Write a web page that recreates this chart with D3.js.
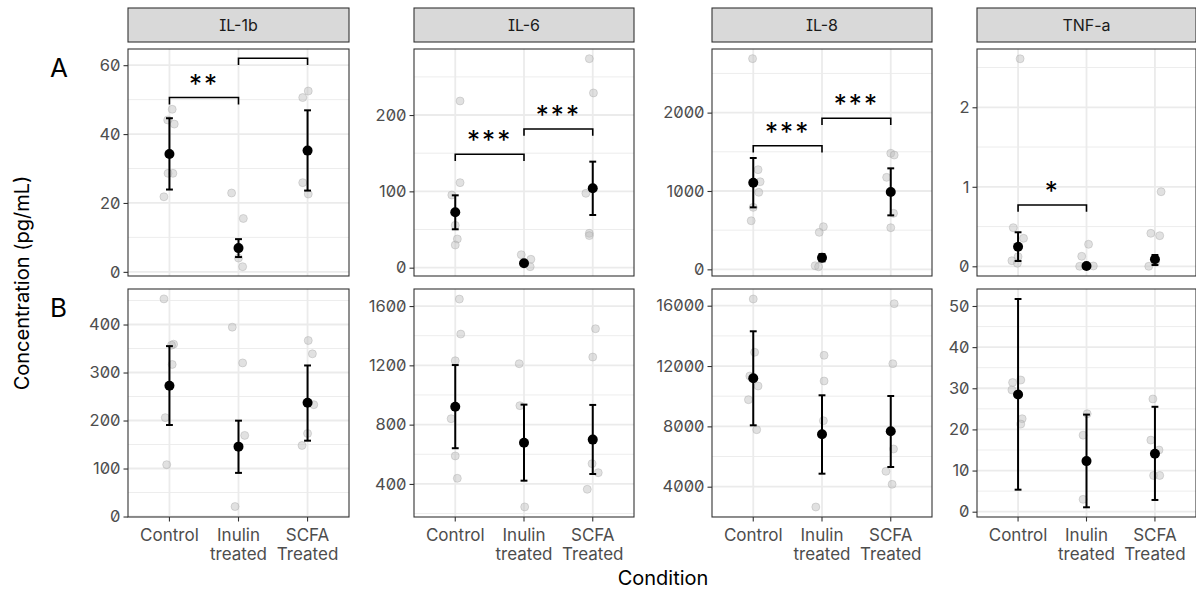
<!DOCTYPE html>
<html>
<head>
<meta charset="utf-8">
<script src="https://cdn.jsdelivr.net/npm/d3@7"></script>
<style>
body { margin: 0; background: #fff; }
text { font-family: Inter, "Noto Sans", sans-serif; }
.ytick text { font-feature-settings: "zero" 1; }
.strip text { font-feature-settings: "cv08" 1; }
</style>
</head>
<body>
<div id="chart"></div>
<script>
const conditions = ["Control", "Inulin treated", "SCFA Treated"];
const conditionLines = [["Control"], ["Inulin", "treated"], ["SCFA", "Treated"]];
const cytokines = ["IL-1b", "IL-6", "IL-8", "TNF-a"];
const rowLabels = ["A", "B"];

// individual points: [condition index, jitter (in category steps), value]
const ptsA_IL1b = [[0,0.04,47.2],[0,-0.025,44.1],[0,0.07,42.9],[0,-0.02,28.6],[0,0.05,28.6],[0,-0.08,21.8],
  [1,-0.1,22.9],[1,0.07,15.5],[1,0,4.0],[1,0.06,1.5],
  [2,0.01,52.5],[2,-0.07,50.6],[2,-0.07,25.9],[2,0.01,22.6]];
const ptsA_IL6 = [[0,0.07,218.4],[0,0.07,111.4],[0,-0.05,95.2],[0,0,55.5],[0,0.03,37.6],[0,0,29.7],
  [1,-0.04,17],[1,0.1,11],[1,0.09,1.3],
  [2,-0.05,273.8],[2,0.01,228.9],[2,-0.1,97.4],[2,-0.05,45],[2,-0.05,42]];
const ptsA_IL8 = [[0,-0.01,2689],[0,0.07,1272],[0,0.1,1118],[0,0.08,983],[0,0,791],[0,-0.03,620],
  [1,0.02,544],[1,-0.04,472],[1,-0.1,46],[1,-0.05,33],
  [2,0,1481],[2,0.05,1459],[2,-0.06,1174],[2,0.04,715],[2,0,531]];
const ptsA_TNF = [[0,0.03,2.61],[0,-0.07,0.486],[0,0.08,0.352],[0,0,0.121],[0,-0.09,0.07],[0,-0.01,0.038],
  [1,0.03,0.277],[1,-0.07,0.126],[1,-0.1,0.0],[1,0.1,0.004],
  [2,0.09,0.938],[2,-0.06,0.415],[2,0.07,0.385],[2,-0.09,0.0],[2,0.01,0.05]];
const ptsB_IL1b = [[0,-0.08,453.4],[0,0.06,359],[0,0.03,357],[0,0.04,316.8],[0,-0.06,206],[0,-0.04,108],
  [1,-0.09,394.5],[1,0.06,320],[1,0.09,169],[1,-0.05,20.8],
  [2,0.01,366.7],[2,0.07,339],[2,0.09,233],[2,0,173],[2,-0.08,148]];
const ptsB_IL6 = [[0,0.06,1647],[0,0.08,1411],[0,0,1231],[0,-0.06,840],[0,0,589],[0,0.03,438],
  [1,-0.07,1211],[1,-0.06,928],[1,0.01,245],
  [2,0.04,1447],[2,0,1256],[2,-0.01,537],[2,0.08,476],[2,-0.08,364]];
const ptsB_IL8 = [[0,0,16445],[0,0.02,12911],[0,-0.05,11339],[0,0.07,10676],[0,-0.07,9768],[0,0.05,7779],
  [1,0.03,12711],[1,0.03,11008],[1,0.02,8376],[1,-0.09,2654],
  [2,0.05,16133],[2,0.03,12155],[2,0.04,6500],[2,-0.07,5020],[2,0.02,4159]];
const ptsB_TNF = [[0,0.04,32.0],[0,-0.08,31.4],[0,-0.09,29.6],[0,0.06,22.6],[0,0.04,21.3],
  [1,0.01,23.8],[1,-0.05,18.6],[1,-0.05,3.0],
  [2,-0.03,27.4],[2,-0.06,17.4],[2,0.06,15],[2,-0.02,8.8],[2,0.07,8.8]];

// summary: mean and error bar limits per cytokine, per condition
const meanA  = [[34.2, 6.9, 35.2], [72.6, 5.8, 104], [1106, 148, 987], [0.247, 0.004, 0.088]];
const lowA   = [[23.9, 4.3, 23.6], [50.3, 3.8, 69], [791, 102, 689], [0.067, 0.0, 0.016]];
const highA  = [[44.6, 9.5, 46.9], [94.8, 7.8, 138.9], [1421, 195, 1289], [0.428, 0.008, 0.142]];
const meanB  = [[272.5, 145.6, 237], [921, 678, 699], [11187, 7474, 7673], [28.5, 12.3, 14.1]];
const lowB   = [[190.7, 90.9, 158], [641, 422, 467], [8071, 4862, 5306], [5.35, 1.07, 2.85]];
const highB  = [[355, 199.7, 314.7], [1202, 935, 933], [14303, 10060, 10013], [51.7, 23.6, 25.5]];

// significance brackets in row A: [cytokine index, from, to, bar value, label]
const bracketsA = [[0, 0, 1, 50.6, "**"], [0, 1, 2, 62.0, ""],
  [1, 0, 1, 148.6, "***"], [1, 1, 2, 181.7, "***"],
  [2, 0, 1, 1578, "***"], [2, 1, 2, 1928, "***"],
  [3, 0, 1, 0.771, "*"]];

const domainsA = [[-1.2, 64.7], [-10.9, 286.5], [-85, 2812], [-0.122, 2.733]];
const domainsB = [[-1, 474], [177, 1715], [1991, 17107], [-1.29, 54.13]];
const ticksA = [[0, 20, 40, 60], [0, 100, 200], [0, 1000, 2000], [0, 1, 2]];
const ticksB = [[0, 100, 200, 300, 400], [400, 800, 1200, 1600], [4000, 8000, 12000, 16000], [0, 10, 20, 30, 40, 50]];

const rowsData = [
  {pts: [ptsA_IL1b, ptsA_IL6, ptsA_IL8, ptsA_TNF], mean: meanA, low: lowA, high: highA, dom: domainsA, ticks: ticksA},
  {pts: [ptsB_IL1b, ptsB_IL6, ptsB_IL8, ptsB_TNF], mean: meanB, low: lowB, high: highB, dom: domainsB, ticks: ticksB}
];

let width = 1196, height = 589;
const panelX = [[128, 349], [414, 634], [712, 932], [977, 1196]];
const rowY = [[49, 276], [289, 517]];
const stripY = [8, 42];

const svg = d3.select("#chart").append("svg")
  .attr("width", width).attr("height", height);

rowsData.forEach(function(row, r) {
  cytokines.forEach(function(cyt, c) {
    const x = d3.scalePoint().domain(d3.range(3)).range(panelX[c]).padding(0.6);
    const step = x.step();
    const y = d3.scaleLinear().domain(row.dom[c]).range([rowY[r][1], rowY[r][0]]);
    const x0 = panelX[c][0], x1 = panelX[c][1], y0 = rowY[r][0], y1 = rowY[r][1];

    const g = svg.append("g");
    const clipId = "clip-" + r + "-" + c;
    svg.append("clipPath").attr("id", clipId)
      .append("rect").attr("x", x0).attr("y", y0).attr("width", x1 - x0).attr("height", y1 - y0);
    const inner = g.append("g").attr("clip-path", "url(#" + clipId + ")");

    // grid
    const ticks = row.ticks[c];
    const tstep = ticks[1] - ticks[0];
    const dom = row.dom[c];
    let minors = [];
    for (let v = ticks[0] - tstep / 2; v <= dom[1]; v += tstep) {
      if (v >= dom[0]) minors.push(v);
    }
    inner.selectAll(".minor").data(minors).enter().append("line")
      .attr("x1", x0).attr("x2", x1)
      .attr("y1", d => y(d)).attr("y2", d => y(d))
      .attr("stroke", "#ebebeb").attr("stroke-width", 0.9);
    inner.selectAll(".major").data(ticks).enter().append("line")
      .attr("x1", x0).attr("x2", x1)
      .attr("y1", d => y(d)).attr("y2", d => y(d))
      .attr("stroke", "#ebebeb").attr("stroke-width", 1.8);
    inner.selectAll(".vmajor").data(d3.range(3)).enter().append("line")
      .attr("x1", d => x(d)).attr("x2", d => x(d))
      .attr("y1", y0).attr("y2", y1)
      .attr("stroke", "#ebebeb").attr("stroke-width", 1.8);

    // raw points
    inner.selectAll(".pt").data(row.pts[c]).enter().append("circle")
      .attr("cx", d => x(d[0]) + d[1] * step)
      .attr("cy", d => y(d[2]))
      .attr("r", 4)
      .attr("fill", "#bdbdbd").attr("fill-opacity", 0.45)
      .attr("stroke", "#a0a0a0").attr("stroke-opacity", 0.45).attr("stroke-width", 0.8);

    // error bars
    const cap = 0.05 * step;
    const eb = inner.selectAll(".eb").data(d3.range(3)).enter().append("g");
    eb.append("line")
      .attr("x1", d => x(d)).attr("x2", d => x(d))
      .attr("y1", d => y(row.low[c][d])).attr("y2", d => y(row.high[c][d]))
      .attr("stroke", "#000").attr("stroke-width", 2);
    eb.append("line")
      .attr("x1", d => x(d) - cap).attr("x2", d => x(d) + cap)
      .attr("y1", d => y(row.low[c][d])).attr("y2", d => y(row.low[c][d]))
      .attr("stroke", "#000").attr("stroke-width", 2);
    eb.append("line")
      .attr("x1", d => x(d) - cap).attr("x2", d => x(d) + cap)
      .attr("y1", d => y(row.high[c][d])).attr("y2", d => y(row.high[c][d]))
      .attr("stroke", "#000").attr("stroke-width", 2);
    eb.append("circle")
      .attr("cx", d => x(d)).attr("cy", d => y(row.mean[c][d]))
      .attr("r", 5).attr("fill", "#000");

    // significance brackets
    if (r == 0) {
      const tip = 0.03 * (dom[1] - dom[0]);
      const br = inner.selectAll(".br").data(bracketsA.filter(b => b[0] == c)).enter().append("g");
      br.append("path")
        .attr("d", d => "M" + x(d[1]) + "," + y(d[3] - tip) + "V" + y(d[3]) + "H" + x(d[2]) + "V" + y(d[3] - tip))
        .attr("fill", "none").attr("stroke", "#000").attr("stroke-width", 1.6);
      br.append("text")
        .attr("x", d => (x(d[1]) + x(d[2])) / 2)
        .attr("y", d => y(d[3]) - 5)
        .attr("text-anchor", "middle")
        .attr("font-size", 26)
        .attr("letter-spacing", 2)
        .attr("fill", "#000")
        .text(d => d[4]);
    }

    // panel border
    g.append("rect").attr("x", x0).attr("y", y0).attr("width", x1 - x0).attr("height", y1 - y0)
      .attr("fill", "none").attr("stroke", "#333").attr("stroke-width", 1.1);

    // y axis
    const yAxis = g.append("g").attr("class", "ytick")
      .attr("transform", "translate(" + x0 + ",0)")
      .call(d3.axisLeft(y).tickValues(ticks).tickSize(4.5).tickPadding(3).tickFormat(d3.format("d")));
    yAxis.select(".domain").remove();
    yAxis.selectAll("line").attr("stroke", "#333").attr("stroke-width", 1.1);
    yAxis.selectAll("text").attr("font-size", 16.5).attr("fill", "#4d4d4d")
      .attr("font-family", "Inter, sans-serif");

    // x axis on the bottom row
    if (r == 1) {
      const xa = g.append("g");
      xa.selectAll("line").data(d3.range(3)).enter().append("line")
        .attr("x1", d => x(d)).attr("x2", d => x(d))
        .attr("y1", y1).attr("y2", y1 + 4.5)
        .attr("stroke", "#333").attr("stroke-width", 1.1);
      const lbl = xa.selectAll("text").data(d3.range(3)).enter().append("text")
        .attr("x", d => x(d)).attr("y", y1 + 24)
        .attr("text-anchor", "middle").attr("font-size", 17).attr("fill", "#4d4d4d");
      lbl.selectAll("tspan").data(d => conditionLines[d].map(t => [d, t])).enter().append("tspan")
        .attr("x", d => x(d[0]))
        .attr("dy", (d, i) => i == 0 ? 0 : 19)
        .text(d => d[1]);
    }

    // strips on top row
    if (r == 0) {
      const s = g.append("g").attr("class", "strip");
      s.append("rect").attr("x", x0).attr("y", stripY[0]).attr("width", x1 - x0).attr("height", stripY[1] - stripY[0])
        .attr("fill", "#d9d9d9").attr("stroke", "#333").attr("stroke-width", 1.1);
      s.append("text").attr("x", (x0 + x1) / 2).attr("y", (stripY[0] + stripY[1]) / 2 + 5.5)
        .attr("text-anchor", "middle").attr("font-size", 16).attr("fill", "#1a1a1a")
        .text(cyt);
    }
  });
});

// row tags
rowLabels.forEach(function(t, i) {
  svg.append("text").attr("x", 50).attr("y", i == 0 ? 77 : 317)
    .attr("font-family", "Liberation Sans, Arial, sans-serif")
    .attr("font-size", 26).attr("fill", "#000").text(t);
});

// axis titles
svg.append("text").attr("x", 663).attr("y", 585)
  .attr("text-anchor", "middle").attr("font-size", 20).attr("fill", "#000").text("Condition");
svg.append("text").attr("transform", "translate(29,283) rotate(-90)")
  .attr("text-anchor", "middle").attr("font-size", 20).attr("fill", "#000").text("Concentration (pg/mL)");
</script>
</body>
</html>
